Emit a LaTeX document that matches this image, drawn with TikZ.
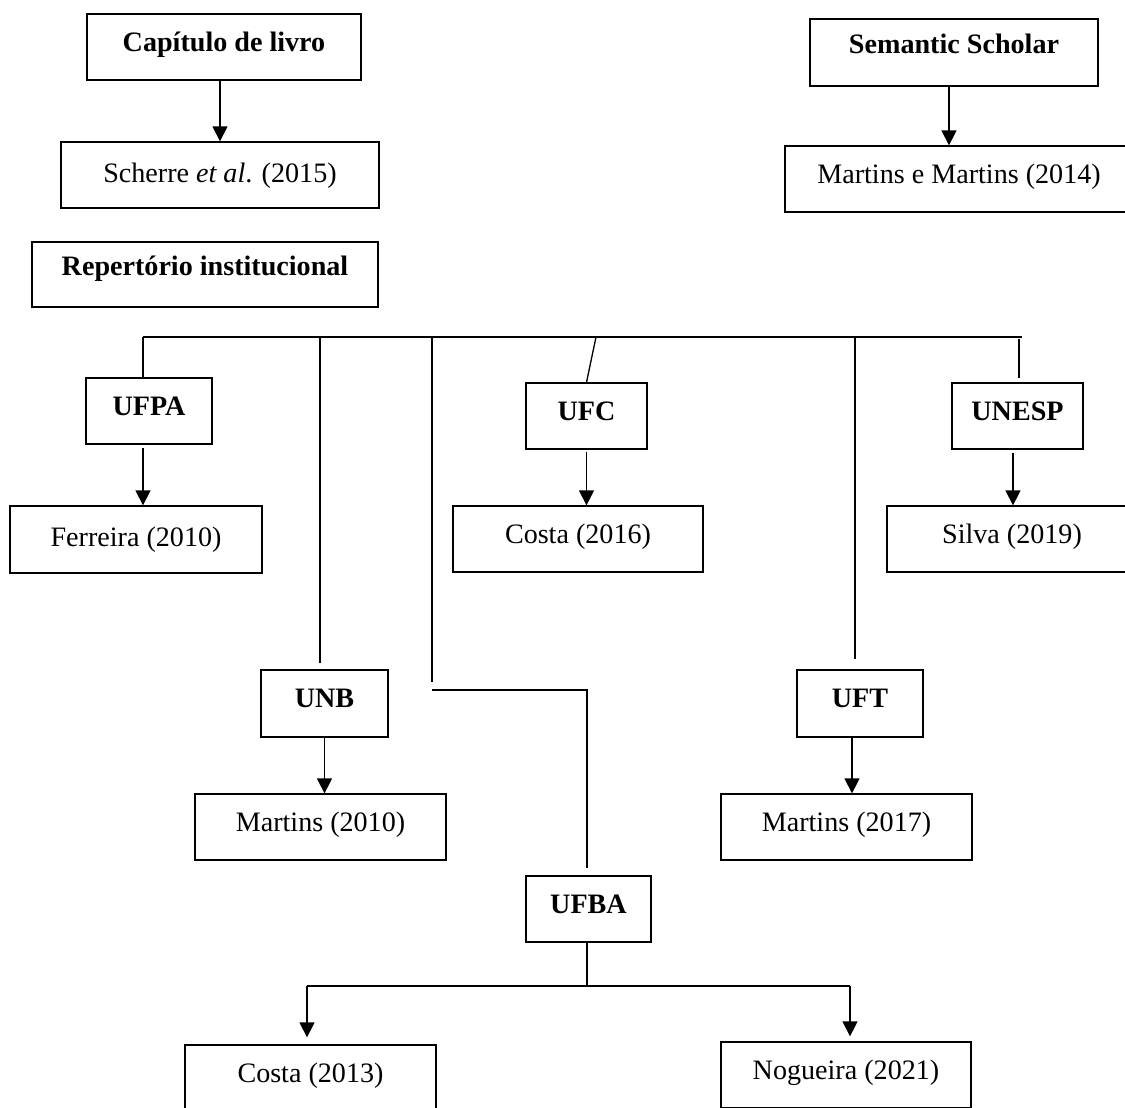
\documentclass[tikz,border=0pt]{standalone}
\usepackage{fontspec}
\setmainfont{Liberation Serif}
\usetikzlibrary{arrows.meta,calc}
\begin{document}
\begin{tikzpicture}[x=0.02cm,y=-0.02cm,
  every node/.style={font=\fontsize{16}{19}\selectfont},
  box/.style={draw,line width=0.75pt,inner sep=0pt,text height=0.38cm,text depth=0.208cm},
  boxA/.style={box,text depth=0.088cm},
  boxC/.style={box,text depth=0.34cm},
  wh/.style 2 args={minimum width=#1*0.02cm,minimum height=#2*0.02cm},
  ln/.style={line width=0.75pt},
  arr/.style={ln,-{Triangle[length=0.3cm,width=0.3cm]}}]
\useasboundingbox (0,0) rectangle (1125,1107);
\clip (0,0) rectangle (1125,1107);
% boxes
\node[box,wh={274}{66}] (cap) at (224,47) {\bfseries Capítulo de livro};
\node[boxA,wh={318}{66}] (sch) at (220,175) {Scherre \textit{et al}. (2015)};
\node[boxC,wh={288}{67}] (sem) at (954,52.5) {\bfseries Semantic Scholar};
\node[box,wh={348}{66}] (mm) at (959,179) {Martins e Martins (2014)};
\node[boxC,wh={346}{65}] (rep) at (205,274.5) {\bfseries Repertório institucional\hspace{0.28cm}};
\node[box,wh={126}{66}] (ufpa) at (149,411) {\bfseries UFPA};
\node[boxA,wh={252}{67}] (fer) at (136,539.5) {Ferreira (2010)};
\node[box,wh={121}{66}] (ufc) at (586.5,416) {\bfseries UFC};
\node[box,wh={250}{66}] (cos16) at (578,539) {Costa (2016)};
\node[box,wh={131}{66}] (unesp) at (1017.5,416) {\bfseries UNESP};
\node[box,wh={250}{66}] (sil) at (1012,539) {Silva (2019)};
\node[box,wh={127}{67}] (unb) at (324.5,703.5) {\bfseries UNB};
\node[box,wh={251}{66}] (mar10) at (320.5,827) {Martins (2010)};
\node[box,wh={126}{67}] (uft) at (860,703.5) {\bfseries UFT};
\node[box,wh={251}{66}] (mar17) at (846.5,827) {Martins (2017)};
\node[box,wh={125}{66}] (ufba) at (588.5,909) {\bfseries UFBA};
\node[box,wh={251}{66}] (cos13) at (310.5,1078) {Costa (2013)};
\node[box,wh={250}{66}] (nog) at (846,1075) {Nogueira (2021)};
% top arrows
\draw[arr] (sch.north |- cap.south) -- (sch.north);
\coordinate (s1) at ([xshift=-0.1cm]sem.south);
\draw[arr] (s1) -- (s1 |- mm.north);
% bus
\coordinate (bl) at (143,337);
\coordinate (br) at (1022,337);
\draw[ln] (bl) -- (br);
% UFPA
\draw[ln] (bl) -- (bl |- ufpa.north);
\draw[arr] ([yshift=-0.06cm]bl |- ufpa.south) -- (bl |- fer.north);
% UNB
\coordinate (b2) at (320,337);
\coordinate (u2) at (320,663);
\draw[ln] (b2) -- (u2);
\draw[arr] (unb.south) -- (unb.south |- mar10.north);
% UFBA
\coordinate (b3) at (432,337);
\coordinate (u3a) at (432,682);
\coordinate (u3b) at (432,690);
\coordinate (u3c) at (587,690);
\coordinate (u3d) at (587,868);
\draw[ln] (b3) -- (u3a);
\draw[ln] (u3b) -- (u3c) -- (u3d);
\coordinate (fork) at (587,986);
\coordinate (fl) at (307,986);
\coordinate (fr) at (850,986);
\draw[ln] (fork |- ufba.south) -- (fork);
\draw[ln] (fl) -- (fr);
\draw[arr,shorten >=0.14cm] (fl) -- (fl |- cos13.north);
\draw[arr,shorten >=0.1cm] (fr) -- (fr |- nog.north);
% UFC
\coordinate (b4) at (596,337);
\draw[ln] (b4) -- (ufc.north);
\draw[arr] ([yshift=-0.04cm]ufc.south) -- (ufc.south |- cos16.north);
% UFT
\coordinate (b5) at (855,337);
\coordinate (u5) at (855,659);
\draw[ln] (b5) -- (u5);
\coordinate (a5) at (852,0);
\draw[arr] (a5 |- uft.south) -- (a5 |- mar17.north);
% UNESP
\coordinate (b6) at (1019,339);
\coordinate (u6) at (1019,378);
\draw[ln] (b6) -- (u6);
\coordinate (a6) at (1013,0);
\draw[arr] ([yshift=-0.06cm]a6 |- unesp.south) -- (a6 |- sil.north);
\end{tikzpicture}
\end{document}
